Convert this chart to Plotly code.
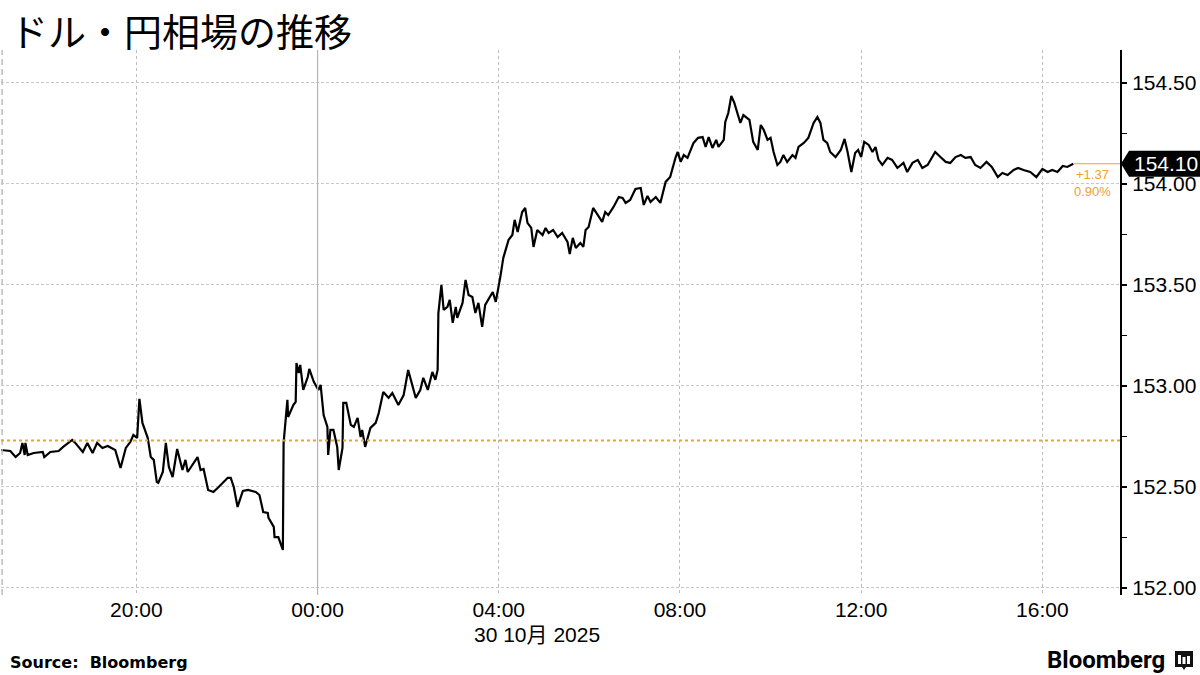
import plotly.graph_objects as go

# ---- data (USD/JPY, 29-30 Oct 2025) ----
times_29 = ["17:00","17:13","17:20","17:26","17:29","17:32","17:33","17:36","17:44","17:56",
            "17:58","18:06","18:17","18:23","18:35","18:39","18:49","18:55","19:02","19:08",
            "19:15","19:22","19:32","19:39","19:46","19:52","19:56","20:01","20:04","20:08",
            "20:15","20:19","20:23","20:27","20:29","20:35","20:39","20:43","20:48","20:54",
            "21:01","21:05","21:08","21:14","21:21","21:25","21:29","21:35","21:42","21:49",
            "22:01","22:05","22:09","22:14","22:21","22:28","22:38","22:43","22:48","22:54",
            "22:55","23:02","23:03","23:08","23:14","23:15","23:20","23:21","23:28","23:31",
            "23:32","23:35","23:37","23:41","23:47","23:49","23:55"]
values_29 = [152.683,152.678,152.648,152.668,152.718,152.658,152.718,152.658,152.668,152.673,
             152.648,152.673,152.678,152.698,152.733,152.718,152.673,152.718,152.668,152.718,
             152.693,152.703,152.683,152.594,152.693,152.723,152.757,152.743,152.936,152.817,
             152.743,152.648,152.634,152.525,152.520,152.574,152.718,152.599,152.549,152.688,
             152.584,152.634,152.574,152.609,152.648,152.584,152.589,152.485,152.475,152.500,
             152.545,152.545,152.500,152.401,152.480,152.485,152.475,152.460,152.376,152.371,
             152.347,152.302,152.252,152.252,152.188,152.718,152.931,152.846,152.906,152.921,
             153.114,153.064,153.104,152.980,153.044,153.084,153.020]

times_30 = ["00:01","00:04","00:08","00:13","00:14","00:17","00:21","00:26","00:28","00:33",
            "00:34","00:38","00:44","00:48","00:53","00:57","00:59","01:03","01:10","01:17",
            "01:21","01:27","01:34","01:39","01:47","01:54","02:00","02:10","02:16","02:20",
            "02:26","02:32","02:36","02:39","02:40","02:44","02:47","02:52","02:55","02:59",
            "03:03","03:05","03:12","03:16","03:20","03:25","03:29","03:33","03:38","03:42",
            "03:52","03:56","04:02","04:06","04:13","04:18","04:21","04:25","04:31","04:35",
            "04:38","04:43","04:46","04:51","04:58","05:02","05:06","05:12","05:18","05:24",
            "05:31","05:34","05:38","05:42","05:48","05:52","05:55","05:59","06:05","06:11",
            "06:17","06:21","06:25","06:32","06:39","06:44","06:48","06:54","07:01","07:08",
            "07:12","07:17","07:21","07:28","07:34","07:41","07:47","07:54","07:57","08:01",
            "08:05","08:10","08:14","08:18","08:24","08:30","08:34","08:38","08:43","08:48",
            "08:51","08:58","09:00","09:04","09:08","09:12","09:16","09:20","09:24","09:28",
            "09:32","09:37","09:43","09:47","09:51","09:56","10:00","10:04","10:09","10:13",
            "10:17","10:22","10:29","10:33","10:37","10:44","10:50","10:57","11:02","11:06",
            "11:10","11:15","11:19","11:26","11:33","11:38","11:42","11:47","11:52","11:56",
            "12:00","12:04","12:10","12:15","12:19","12:23","12:28","12:35","12:41","12:48",
            "12:56","13:01","13:08","13:15","13:21","13:28","13:34","13:38","13:45","13:52",
            "13:58","14:05","14:12","14:18","14:25","14:31","14:38","14:46","14:53","15:01",
            "15:07","15:14","15:22","15:28","15:35","15:44","15:52","16:00","16:07","16:13",
            "16:20","16:27","16:33","16:41"]
values_30 = [152.980,153.005,152.856,152.797,152.658,152.782,152.782,152.698,152.584,152.693,
             152.916,152.916,152.807,152.797,152.842,152.747,152.782,152.698,152.792,152.817,
             152.866,152.970,152.941,152.965,152.906,152.955,153.079,152.941,152.980,153.040,
             152.980,153.069,153.030,153.079,153.361,153.500,153.376,153.391,153.426,153.312,
             153.391,153.337,153.411,153.525,153.450,153.440,153.361,153.411,153.292,153.401,
             153.465,153.416,153.539,153.634,153.723,153.747,153.822,153.762,153.861,153.881,
             153.807,153.782,153.688,153.772,153.747,153.782,153.757,153.772,153.737,153.757,
             153.713,153.653,153.733,153.683,153.708,153.688,153.772,153.787,153.881,153.846,
             153.812,153.861,153.846,153.886,153.935,153.931,153.906,153.921,153.975,153.980,
             153.896,153.940,153.911,153.935,153.906,154.010,154.034,154.129,154.158,154.109,
             154.143,154.129,154.168,154.203,154.228,154.232,154.183,154.232,154.178,154.218,
             154.183,154.218,154.307,154.351,154.435,154.401,154.351,154.302,154.341,154.327,
             154.317,154.208,154.168,154.292,154.267,154.218,154.228,154.158,154.094,154.109,
             154.143,154.109,154.143,154.129,154.183,154.203,154.228,154.302,154.331,154.302,
             154.218,154.203,154.158,154.133,154.168,154.223,154.158,154.059,154.153,154.168,
             154.133,154.208,154.193,154.158,154.183,154.119,154.094,154.129,154.119,154.079,
             154.104,154.059,154.104,154.119,154.079,154.094,154.133,154.158,154.133,154.109,
             154.104,154.133,154.143,154.129,154.133,154.094,154.079,154.109,154.084,154.034,
             154.054,154.044,154.069,154.079,154.069,154.059,154.034,154.074,154.059,154.069,
             154.059,154.089,154.084,154.100]

prev_close = 152.73
y_ticks = [152.00, 152.50, 153.00, 153.50, 154.00, 154.50]
x_range = ["2025-10-29 17:00:40", "2025-10-30 17:42:50"]
y_range = [151.965, 154.663]

title_text = "ドル・円相場の推移"
date_label = "30 10月 2025"
source_text = "Source:  Bloomberg"

# ---- build ----
x = ["2025-10-29 " + t for t in times_29] + ["2025-10-30 " + t for t in times_30]
y = values_29 + values_30
last_x, last_y = x[-1], y[-1]
change = last_y - prev_close
pct = change / prev_close * 100

ORANGE = "#F0A030"
TICKFONT = dict(family="Liberation Sans, Noto Sans CJK JP", size=21, color="#000")

fig = go.Figure()
fig.add_trace(go.Scatter(x=x, y=y, mode="lines",
                         line=dict(color="#000", width=2.2), hoverinfo="skip",
                         showlegend=False))

fig.update_layout(
    width=1200, height=675,
    margin=dict(l=1, r=80, t=50, b=80),
    paper_bgcolor="white", plot_bgcolor="white",
    showlegend=False,
    xaxis=dict(
        type="date", range=x_range,
        tick0="2025-10-29 20:00", dtick=4 * 3600 * 1000,
        tickformat="%H:%M", tickfont=TICKFONT,
        showgrid=True, gridcolor="#bdbdbd", griddash="dot", gridwidth=1,
        showline=False, zeroline=False, ticks="",
    ),
    yaxis=dict(
        side="right", range=y_range,
        tickvals=y_ticks, tickformat=".2f", tickfont=TICKFONT,
        showgrid=True, gridcolor="#c8c8c8", griddash="3px,2px", gridwidth=1,
        showline=True, linecolor="#000", linewidth=2,
        ticks="outside", ticklen=5, tickcolor="#000", tickwidth=1.5,
        minor=dict(dtick=0.25, tick0=152, ticks="outside", ticklen=5,
                   tickcolor="#000", tickwidth=1, showgrid=False),
        zeroline=False, ticklabelstandoff=1,
    ),
)

shapes = [
    # left edge dashed line
    dict(type="line", xref="paper", yref="paper", x0=0.001, x1=0.001, y0=0, y1=1,
         line=dict(color="#bdbdbd", width=1.5, dash="6px,4px")),
    # day boundary
    dict(type="line", xref="x", yref="paper", x0="2025-10-30 00:00", x1="2025-10-30 00:00",
         y0=0, y1=1, line=dict(color="#b5b5b5", width=1.2)),
    # previous close
    dict(type="line", xref="paper", yref="y", x0=0, x1=1, y0=prev_close, y1=prev_close,
         line=dict(color=ORANGE, width=2, dash="dot")),
    # last value guide
    dict(type="line", xref="x", yref="y", x0=last_x, x1=x_range[1], y0=last_y, y1=last_y,
         line=dict(color=ORANGE, width=1.2)),
    # last value label box
    dict(type="path", xref="paper", yref="y", xsizemode="pixel", ysizemode="pixel",
         xanchor=1, yanchor=last_y,
         path="M 1,0 L 9,13 L 90,13 L 90,-13 L 9,-13 Z",
         fillcolor="#000", line=dict(width=0)),
    # Bloomberg icon
    dict(type="path", xref="paper", yref="paper", xsizemode="pixel", ysizemode="pixel",
         xanchor=1, yanchor=0,
         path="M 55,-56 L 73,-56 L 73,-72 L 66,-72 L 64,-75 L 62,-72 L 55,-72 Z",
         fillcolor="#111", line=dict(width=0)),
]
for bx, top in [(58, -60), (62.5, -62), (67, -61)]:
    shapes.append(dict(type="path", xref="paper", yref="paper", xsizemode="pixel",
                       ysizemode="pixel", xanchor=1, yanchor=0,
                       path=f"M {bx},{top} L {bx+3},{top} L {bx+3},-69 L {bx},-69 Z",
                       fillcolor="#fff", line=dict(width=0)))
fig.update_layout(shapes=shapes)

annotations = [
    dict(text=title_text, xref="paper", yref="paper", x=0, y=1, xanchor="left",
         yanchor="top", xshift=7, yshift=50, showarrow=False,
         font=dict(family="Noto Sans CJK JP", size=38, color="#000")),
    dict(text=f"{last_y:.2f}", xref="paper", yref="y", x=1, y=last_y, xanchor="left",
         yanchor="middle", xshift=12, showarrow=False,
         font=dict(family="Liberation Sans", size=21, color="#fff")),
    dict(text=f"+{change:.2f}<br>{pct:.2f}%", xref="x", yref="y", x=last_x, y=last_y,
         xanchor="left", yanchor="top", xshift=-1, yshift=-1, showarrow=False,
         align="center", font=dict(family="Liberation Sans", size=13, color=ORANGE)),
    dict(text=date_label, xref="x", yref="paper", x="2025-10-30 04:00", y=0,
         xanchor="left", yanchor="middle", xshift=-27, yshift=-39, showarrow=False,
         font=TICKFONT),
    dict(text=f"<b>{source_text}</b>", xref="paper", yref="paper", x=0, y=0,
         xanchor="left", yanchor="middle", xshift=7, yshift=-67, showarrow=False,
         font=dict(family="DejaVu Sans", size=16, color="#000")),
    dict(text="<b>Bloomberg</b>", xref="paper", yref="paper", x=1, y=0,
         xanchor="right", yanchor="middle", xshift=47, yshift=-65, showarrow=False,
         font=dict(family="Roboto", size=24, color="#000")),
]
fig.update_layout(annotations=annotations)

fig.write_html("out.html", config={"displayModeBar": False},
               post_script="document.body.style.margin='0';document.body.style.padding='0';")
